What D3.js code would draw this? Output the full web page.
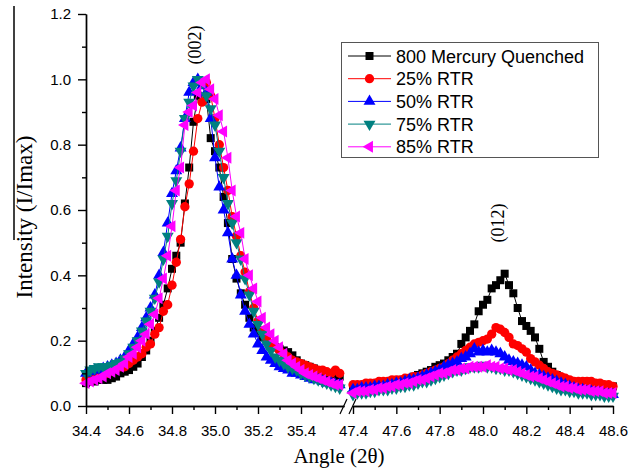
<!DOCTYPE html>
<html>
<head>
<meta charset="utf-8">
<script src="https://cdn.jsdelivr.net/npm/d3@7"></script>
<style>
  html, body { margin: 0; padding: 0; background: #fff; }
  svg { display: block; }
</style>
</head>
<body>
<svg id="chart" width="644" height="476"></svg>
<script>
// ---------- DATA ----------
const seriesNames = ["800 Mercury Quenched", "25% RTR", "50% RTR", "75% RTR", "85% RTR"];
const yTicks = [0.0, 0.2, 0.4, 0.6, 0.8, 1.0, 1.2];
const xTicksLeft = [34.4, 34.6, 34.8, 35.0, 35.2, 35.4];
const xTicksRight = [47.4, 47.6, 47.8, 48.0, 48.2, 48.4, 48.6];
const peakLabels = ["(002)", "(012)"];

const angleLeft = [34.40,34.42,34.44,34.46,34.48,34.50,34.52,34.54,34.56,34.58,
  34.60,34.62,34.64,34.66,34.68,34.70,34.72,34.74,34.76,34.78,
  34.80,34.82,34.84,34.86,34.88,34.90,34.92,34.94,34.96,34.98,
  35.00,35.02,35.04,35.06,35.08,35.10,35.12,35.14,35.16,35.18,
  35.20,35.22,35.24,35.26,35.28,35.30,35.32,35.34,35.36,35.38,
  35.40,35.42,35.44,35.46,35.48,35.50,35.52,35.54,35.56,35.58];

const angleRight = [47.40,47.42,47.44,47.46,47.48,47.50,47.52,47.54,47.56,47.58,
  47.60,47.62,47.64,47.66,47.68,47.70,47.72,47.74,47.76,47.78,
  47.80,47.82,47.84,47.86,47.88,47.90,47.92,47.94,47.96,47.98,
  48.00,48.02,48.04,48.06,48.08,48.10,48.12,48.14,48.16,48.18,
  48.20,48.22,48.24,48.26,48.28,48.30,48.32,48.34,48.36,48.38,
  48.40,48.42,48.44,48.46,48.48,48.50,48.52,48.54,48.56,48.58,48.60];

const mqLeft = [0.07,0.075,0.075,0.08,0.08,0.08,0.085,0.09,0.10,0.105,
  0.11,0.12,0.13,0.15,0.17,0.20,0.23,0.27,0.31,0.36,
  0.42,0.46,0.50,0.62,0.73,0.87,0.95,0.99,0.94,0.82,
  0.78,0.73,0.64,0.56,0.45,0.39,0.345,0.31,0.27,0.24,
  0.23,0.21,0.20,0.19,0.18,0.175,0.17,0.165,0.155,0.14,
  0.13,0.125,0.12,0.115,0.11,0.105,0.10,0.095,0.095,0.09];
const r25Left = [0.08,0.08,0.085,0.09,0.095,0.10,0.11,0.115,0.12,0.12,
  0.13,0.14,0.15,0.16,0.18,0.19,0.22,0.24,0.29,0.31,
  0.37,0.44,0.51,0.61,0.68,0.78,0.88,0.93,0.99,0.95,
  0.88,0.80,0.73,0.66,0.58,0.52,0.46,0.41,0.35,0.30,
  0.26,0.23,0.21,0.19,0.18,0.17,0.16,0.15,0.14,0.135,
  0.13,0.125,0.12,0.115,0.11,0.11,0.105,0.10,0.11,0.10];
const r50Left = [0.10,0.105,0.11,0.11,0.115,0.12,0.125,0.13,0.14,0.15,
  0.17,0.19,0.21,0.24,0.27,0.30,0.34,0.40,0.47,0.56,
  0.65,0.72,0.79,0.88,0.96,0.99,1.00,0.98,0.96,0.88,
  0.76,0.67,0.60,0.53,0.45,0.40,0.34,0.29,0.25,0.22,
  0.19,0.17,0.15,0.14,0.13,0.12,0.115,0.11,0.10,0.10,
  0.095,0.09,0.085,0.08,0.08,0.075,0.07,0.07,0.065,0.065];
const r75Left = [0.10,0.11,0.115,0.12,0.12,0.12,0.125,0.13,0.135,0.145,
  0.16,0.18,0.20,0.23,0.26,0.29,0.33,0.38,0.45,0.52,
  0.62,0.69,0.78,0.88,0.93,0.98,1.00,0.99,0.95,0.91,
  0.86,0.78,0.70,0.62,0.56,0.50,0.45,0.39,0.34,0.29,
  0.25,0.22,0.19,0.17,0.15,0.14,0.13,0.12,0.115,0.11,
  0.10,0.095,0.09,0.085,0.08,0.075,0.07,0.065,0.06,0.055];
const r85Left = [0.07,0.075,0.08,0.085,0.09,0.10,0.105,0.11,0.12,0.13,
  0.15,0.16,0.18,0.20,0.22,0.25,0.28,0.33,0.39,0.46,
  0.55,0.66,0.73,0.86,0.90,0.92,0.96,0.99,1.00,0.97,
  0.94,0.89,0.84,0.76,0.66,0.58,0.53,0.45,0.40,0.36,
  0.32,0.27,0.24,0.22,0.20,0.18,0.16,0.14,0.13,0.12,
  0.11,0.10,0.095,0.09,0.085,0.08,0.075,0.07,0.065,0.065];

const mqRight = [0.05,0.05,0.055,0.055,0.06,0.06,0.065,0.065,0.07,0.07,
  0.075,0.08,0.08,0.085,0.09,0.095,0.10,0.105,0.11,0.12,
  0.125,0.13,0.14,0.15,0.16,0.19,0.21,0.23,0.25,0.29,
  0.31,0.325,0.36,0.37,0.385,0.405,0.37,0.345,0.30,0.26,
  0.245,0.23,0.21,0.175,0.135,0.12,0.105,0.095,0.085,0.08,
  0.075,0.07,0.07,0.07,0.075,0.07,0.065,0.065,0.06,0.06,0.06];
const r25Right = [0.065,0.065,0.065,0.07,0.07,0.07,0.075,0.075,0.075,0.08,
  0.08,0.08,0.085,0.085,0.09,0.09,0.095,0.10,0.105,0.11,
  0.115,0.12,0.13,0.14,0.15,0.16,0.17,0.18,0.19,0.195,
  0.20,0.205,0.22,0.24,0.235,0.225,0.21,0.19,0.185,0.175,
  0.165,0.145,0.135,0.125,0.115,0.105,0.10,0.095,0.09,0.085,
  0.08,0.075,0.075,0.075,0.075,0.075,0.07,0.07,0.065,0.065,0.06];
const r50Right = [0.05,0.05,0.055,0.055,0.055,0.06,0.06,0.06,0.065,0.065,
  0.07,0.07,0.075,0.08,0.08,0.085,0.09,0.095,0.10,0.105,
  0.11,0.12,0.125,0.13,0.135,0.145,0.15,0.16,0.175,0.165,
  0.17,0.165,0.17,0.165,0.16,0.15,0.14,0.135,0.13,0.125,
  0.12,0.11,0.10,0.095,0.09,0.085,0.08,0.075,0.07,0.065,
  0.06,0.055,0.05,0.05,0.045,0.045,0.04,0.04,0.035,0.035,0.035];
const r75Right = [0.035,0.04,0.04,0.04,0.045,0.045,0.05,0.05,0.05,0.055,
  0.055,0.06,0.06,0.065,0.065,0.07,0.075,0.075,0.08,0.085,
  0.09,0.095,0.10,0.105,0.11,0.11,0.115,0.12,0.12,0.12,
  0.125,0.12,0.12,0.115,0.115,0.11,0.11,0.105,0.10,0.095,
  0.09,0.085,0.08,0.075,0.07,0.065,0.06,0.055,0.05,0.05,
  0.045,0.045,0.04,0.04,0.04,0.035,0.035,0.035,0.03,0.03,0.03];
const r85Right = [0.04,0.045,0.045,0.045,0.05,0.05,0.055,0.055,0.06,0.06,
  0.065,0.065,0.07,0.07,0.075,0.08,0.08,0.085,0.09,0.095,
  0.10,0.10,0.105,0.11,0.11,0.115,0.115,0.12,0.12,0.12,
  0.12,0.125,0.12,0.12,0.115,0.115,0.11,0.11,0.105,0.10,
  0.095,0.09,0.09,0.085,0.08,0.075,0.07,0.065,0.06,0.06,
  0.055,0.055,0.05,0.05,0.05,0.045,0.045,0.045,0.04,0.04,0.04];

// ---------- CHART ----------
const svg = d3.select("#chart");
const colors = ["#000000", "#ff0000", "#0000ff", "#008080", "#ff00ff"];
const symbols = [
  {type: d3.symbolSquare, size: 64, rot: 0},
  {type: d3.symbolCircle, size: 68, rot: 0},
  {type: d3.symbolTriangle, size: 62, rot: 0},
  {type: d3.symbolTriangle, size: 62, rot: 180},
  {type: d3.symbolTriangle, size: 62, rot: -90}
];
const leftVals = [mqLeft, r25Left, r50Left, r75Left, r85Left];
const rightVals = [mqRight, r25Right, r50Right, r75Right, r85Right];

const y = d3.scaleLinear().domain([0, 1.2]).range([406, 14]);
const xL = d3.scaleLinear().domain([34.4, 35.6]).range([86, 344]);
const xR = d3.scaleLinear().domain([47.4, 48.6]).range([353, 613]);

const FONT = "Arial, 'Liberation Sans', sans-serif";
const SERIF = "'Times New Roman', 'Liberation Serif', serif";

// stray frame line at left edge
svg.append("line").attr("x1", 14).attr("x2", 14).attr("y1", 6).attr("y2", 240)
  .attr("stroke", "#000").attr("stroke-width", 1.5);

// data
function drawSeg(x, angles, valsArr) {
  valsArr.forEach((vals, si) => {
    const pts = angles.map((a, i) => [a, vals[i]]);
    const g = svg.append("g");
    g.append("path")
      .attr("d", d3.line().x(d => x(d[0])).y(d => y(d[1]))(pts))
      .attr("fill", "none").attr("stroke", colors[si]).attr("stroke-width", 1);
    const sym = d3.symbol().type(symbols[si].type).size(symbols[si].size);
    g.selectAll("path.m").data(pts).join("path").attr("class", "m")
      .attr("d", sym)
      .attr("transform", d => `translate(${x(d[0])},${y(d[1])}) rotate(${symbols[si].rot})`)
      .attr("fill", colors[si]);
  });
}
drawSeg(xL, angleLeft, leftVals);
drawSeg(xR, angleRight, rightVals);

// axes
function styleAxis(g) {
  g.selectAll("path.domain").attr("stroke", "#000").attr("stroke-width", 1.4);
  g.selectAll(".tick line").attr("stroke", "#000").attr("stroke-width", 1.4);
  g.selectAll("text").attr("font-family", FONT).attr("font-size", 15).attr("fill", "#000");
}
const yAxis = svg.append("g").attr("transform", "translate(86,0)")
  .call(d3.axisLeft(y).tickValues(yTicks).tickFormat(d3.format(".1f")).tickSize(8).tickSizeOuter(0).tickPadding(7));
styleAxis(yAxis);
const yMinor = svg.append("g").attr("transform", "translate(86,0)")
  .call(d3.axisLeft(y).tickValues([0.1, 0.3, 0.5, 0.7, 0.9, 1.1]).tickFormat("").tickSize(4).tickSizeOuter(0));
styleAxis(yMinor);

const xAxL = svg.append("g").attr("transform", "translate(0,406)")
  .call(d3.axisBottom(xL).tickValues(xTicksLeft).tickFormat(d3.format(".1f")).tickSize(8).tickSizeOuter(0).tickPadding(11));
styleAxis(xAxL);
const xMinL = svg.append("g").attr("transform", "translate(0,406)")
  .call(d3.axisBottom(xL).tickValues([34.5, 34.7, 34.9, 35.1, 35.3, 35.5]).tickFormat("").tickSize(4).tickSizeOuter(0));
styleAxis(xMinL);
const xAxR = svg.append("g").attr("transform", "translate(0,406)")
  .call(d3.axisBottom(xR).tickValues(xTicksRight).tickFormat(d3.format(".1f")).tickSize(8).tickSizeOuter(0).tickPadding(11));
styleAxis(xAxR);
const xMinR = svg.append("g").attr("transform", "translate(0,406)")
  .call(d3.axisBottom(xR).tickValues([47.5, 47.7, 47.9, 48.1, 48.3, 48.5]).tickFormat("").tickSize(4).tickSizeOuter(0));
styleAxis(xMinR);

// break marks
[[340, 347], [349, 356]].forEach(([a, b]) => {
  svg.append("line").attr("x1", a).attr("y1", 414).attr("x2", b).attr("y2", 399)
    .attr("stroke", "#000").attr("stroke-width", 1.2);
});

// axis titles
svg.append("text").attr("x", 339).attr("y", 463).attr("text-anchor", "middle")
  .attr("font-family", SERIF).attr("font-size", 21).text("Angle (2θ)");
svg.append("text").attr("transform", "translate(32,217) rotate(-90)").attr("text-anchor", "middle")
  .attr("font-family", SERIF).attr("font-size", 23).text("Intensity (I/Imax)");

// peak labels
svg.append("text").attr("transform", "translate(201,45) rotate(-90)").attr("text-anchor", "middle")
  .attr("font-family", SERIF).attr("font-size", 18).text(peakLabels[0]);
svg.append("text").attr("transform", "translate(504,223) rotate(-90)").attr("text-anchor", "middle")
  .attr("font-family", SERIF).attr("font-size", 18).text(peakLabels[1]);

// legend
const lg = svg.append("g");
lg.append("rect").attr("x", 341.5).attr("y", 42.5).attr("width", 257).attr("height", 115)
  .attr("fill", "#fff").attr("stroke", "#555").attr("stroke-width", 1);
seriesNames.forEach((name, i) => {
  const cy = 56 + i * 22.7;
  lg.append("line").attr("x1", 348).attr("x2", 391).attr("y1", cy).attr("y2", cy)
    .attr("stroke", colors[i]).attr("stroke-width", 1);
  lg.append("path").attr("d", d3.symbol().type(symbols[i].type).size(symbols[i].size)())
    .attr("transform", `translate(369.5,${cy}) rotate(${symbols[i].rot})`).attr("fill", colors[i]);
  lg.append("text").attr("x", 396).attr("y", cy + 6.5).attr("font-family", FONT).attr("font-size", 18)
    .text(name);
});
</script>
</body>
</html>
